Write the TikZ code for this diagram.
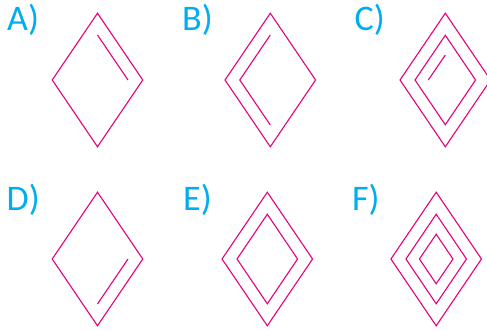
\documentclass[tikz,border=0pt]{standalone}
\usepackage{fontspec}
\setmainfont{Carlito}
\usetikzlibrary{shapes.geometric}
\definecolor{optpink}{RGB}{230,0,126}
\definecolor{optcyan}{RGB}{0,174,239}

\begin{document}
\begin{tikzpicture}[x=1pt,y=-1pt,
rhomb/.style={diamond,draw=optpink,line width=1.1pt,inner sep=0pt,minimum width=91pt,minimum height=134pt},
rhombmid/.style={rhomb,minimum width=61pt,minimum height=90pt},
rhombsmall/.style={rhomb,minimum width=34pt,minimum height=50pt},
ghost/.style={draw=none,outer sep=0pt},
edge/.style={draw=optpink,line width=1.1pt},
lbl/.style={anchor=base west,inner sep=0pt,text=optcyan,font=\fontsize{36}{36}\selectfont}]
\useasboundingbox (0,0) rectangle (487,331);
% top row
\node[lbl](la) at (7,30.7){A)};
\node[rhomb](aout) at (97.5,80){};
\node[rhombmid,ghost](ain) at (aout.center){};
\draw[edge](ain.north)--(ain.east);
\node[lbl](lb) at (182,30.7){B)};
\node[rhomb](bout) at (270.3,80){};
\node[rhombmid,ghost](bin) at (bout.center){};
\draw[edge](bin.north)--(bin.west)--(bin.south);
\node[lbl](lc) at (354.5,30.7){C)};
\node[rhomb](cout) at (445.3,80){};
\node[rhombmid](cmid) at (cout.center){};
\node[rhombsmall,ghost](cin) at (cout.center){};
\draw[edge](cin.west)--(cin.north);
% bottom row
\node[lbl](ld) at (6.5,210.5){D)};
\node[rhomb](dout) at (97.5,259){};
\node[rhombmid,ghost](din) at (dout.center){};
\draw[edge](din.east)--(din.south);
\node[lbl](le) at (183,210.5){E)};
\node[rhomb](eout) at (267.3,259){};
\node[rhombmid](ein) at (eout.center){};
\node[lbl](lf) at (352,210.5){F)};
\node[rhomb](fout) at (436.2,259){};
\node[rhombmid](fmid) at (fout.center){};
\node[rhombsmall](fin) at (fout.center){};
\end{tikzpicture}
\end{document}
